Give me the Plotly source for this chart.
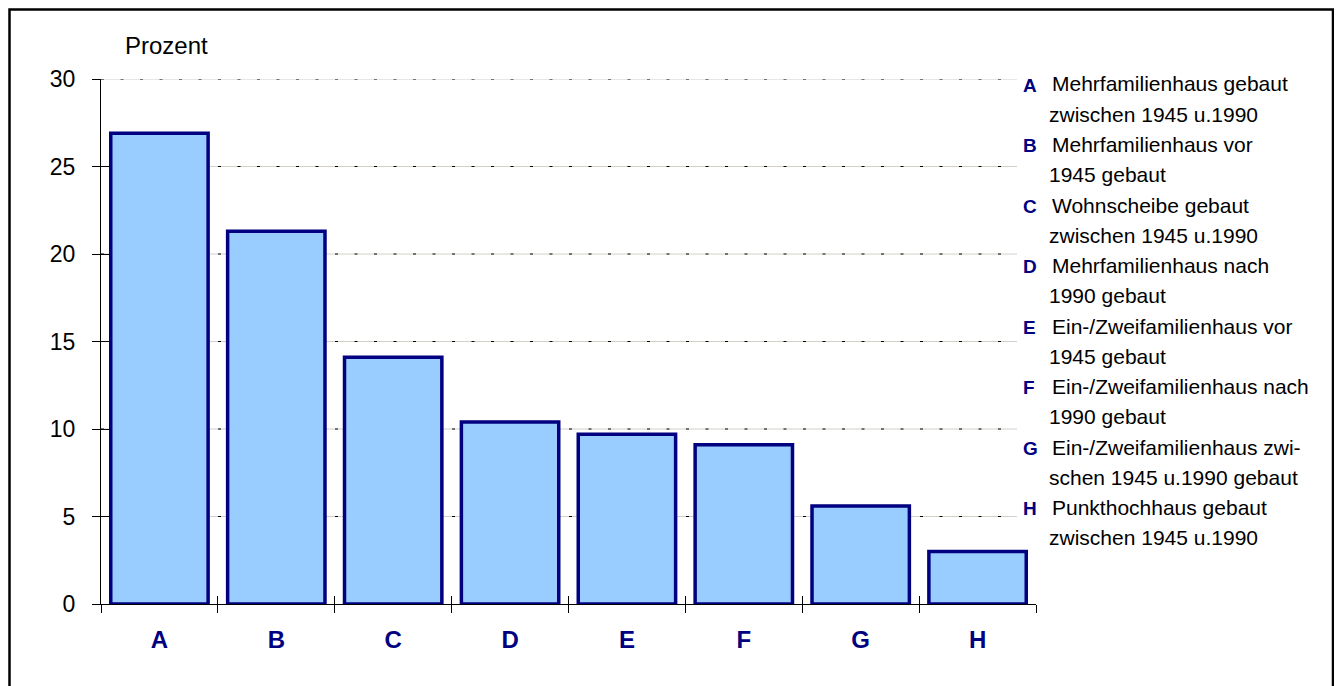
import plotly.graph_objects as go

# ---- data ----
categories = ["A", "B", "C", "D", "E", "F", "G", "H"]
values = [26.9, 21.3, 14.1, 10.4, 9.7, 9.1, 5.6, 3.0]
y_ticks = [0, 5, 10, 15, 20, 25, 30]
legend_lines = [
    ("A", "Mehrfamilienhaus gebaut", "zwischen 1945 u.1990"),
    ("B", "Mehrfamilienhaus vor", "1945 gebaut"),
    ("C", "Wohnscheibe gebaut", "zwischen 1945 u.1990"),
    ("D", "Mehrfamilienhaus nach", "1990 gebaut"),
    ("E", "Ein-/Zweifamilienhaus vor", "1945 gebaut"),
    ("F", "Ein-/Zweifamilienhaus nach", "1990 gebaut"),
    ("G", "Ein-/Zweifamilienhaus zwi-", "schen 1945 u.1990 gebaut"),
    ("H", "Punkthochhaus gebaut", "zwischen 1945 u.1990"),
]
y_label = "Prozent"

# ---- layout geometry (target pixels; page body has an 8px margin) ----
OFF = 8
W_PX, H_PX = 1342, 686
L, R, T, B = 101, 1036, 79, 604
PW, PH = R - L, B - T


def px(x):
    return (x - L) / PW


def py(y):
    return (B - y) / PH


FONT = "Liberation Sans, Arial, sans-serif"
NAVY = "#000080"

fig = go.Figure()
fig.add_trace(go.Bar(
    x=categories, y=values,
    marker=dict(color="#99CCFF", line=dict(color=NAVY, width=3.5)),
    hoverinfo="x+y", showlegend=False,
))
# invisible trace for overlay axes (inside tick marks)
fig.add_trace(go.Scatter(x=categories, y=values, mode="none", xaxis="x2", yaxis="y2",
                         hoverinfo="skip", showlegend=False))

# gridlines: light grey solid + black dashes, ending before legend
for v in y_ticks[1:]:
    fig.add_shape(type="line", xref="paper", yref="y", x0=0, x1=px(1017), y0=v, y1=v,
                  line=dict(color="#D4D0C8", width=1), layer="below")
    fig.add_shape(type="line", xref="paper", yref="y", x0=0, x1=px(1017), y0=v, y1=v,
                  line=dict(color="black", width=1, dash="3px,16.5px"), layer="below")

# outer frame (kept just inside the figure so it is not clipped)
fig.add_shape(type="rect", xref="paper", yref="paper",
              x0=px(OFF + 1.5), x1=px(1333), y0=py(730), y1=py(OFF + 1.5),
              line=dict(color="black", width=2.5), fillcolor="rgba(0,0,0,0)", layer="above")

# y axis title
fig.add_annotation(text=y_label, xref="paper", yref="paper", x=px(123), y=py(46),
                   xanchor="left", yanchor="middle", showarrow=False,
                   font=dict(family=FONT, size=24, color="black"))

# legend text
y0_base = 84
step = 60.5
for i, (letter, l1, l2) in enumerate(legend_lines):
    yc = y0_base + i * step
    fig.add_annotation(text=letter, xref="paper", yref="paper", x=px(1021), y=py(yc + 1),
                       xanchor="left", yanchor="middle", showarrow=False,
                       font=dict(family=FONT, size=19, color=NAVY, weight="bold"))
    fig.add_annotation(text=l1, xref="paper", yref="paper", x=px(1050), y=py(yc),
                       xanchor="left", yanchor="middle", showarrow=False,
                       font=dict(family=FONT, size=21, color="black"))
    fig.add_annotation(text=l2, xref="paper", yref="paper", x=px(1047), y=py(yc + 30),
                       xanchor="left", yanchor="middle", showarrow=False,
                       font=dict(family=FONT, size=21, color="black"))

fig.update_layout(
    width=W_PX, height=H_PX,
    margin=dict(l=L - OFF, r=W_PX - (R - OFF), t=T - OFF, b=H_PX - (B - OFF), pad=0),
    paper_bgcolor="white", plot_bgcolor="white",
    bargap=0.167,
    font=dict(family=FONT),
    xaxis=dict(type="category", categoryarray=categories, range=[-0.5, len(categories) - 0.5],
               showline=True, linecolor="black", linewidth=1,
               ticks="outside", ticklen=8, tickcolor="black", tickson="boundaries",
               tickfont=dict(family=FONT, size=24, color=NAVY, weight="bold"),
               ticklabelstandoff=14, showgrid=False, zeroline=False, fixedrange=True),
    yaxis=dict(range=[0, 30], tickvals=y_ticks, showline=True, linecolor="black", linewidth=1,
               ticks="outside", ticklen=8, tickcolor="black",
               tickfont=dict(family=FONT, size=23, color="black"),
               ticklabelstandoff=12, showgrid=False, zeroline=False, fixedrange=True),
    xaxis2=dict(type="category", categoryarray=categories, range=[-0.5, len(categories) - 0.5],
                overlaying="x", showticklabels=False, ticks="inside", ticklen=8,
                tickcolor="black", tickson="boundaries", showline=False, showgrid=False,
                zeroline=False, fixedrange=True),
    yaxis2=dict(range=[0, 30], tickvals=y_ticks, overlaying="y", side="left",
                showticklabels=False, ticks="inside", ticklen=8, tickcolor="black",
                showline=False, showgrid=False, zeroline=False, fixedrange=True),
)

fig.write_html("out.html")
